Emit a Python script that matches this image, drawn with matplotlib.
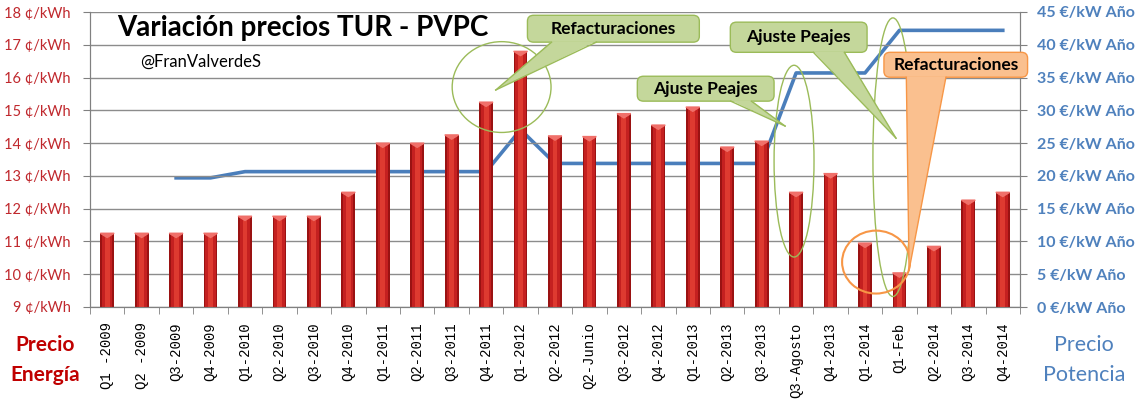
import numpy as np
import matplotlib
matplotlib.use("Agg")
import matplotlib.pyplot as plt
from matplotlib.patches import Ellipse, Polygon, FancyBboxPatch

# data
categories = ["Q1 -2009", "Q2 -2009", "Q3-2009", "Q4-2009", "Q1-2010", "Q2-2010",
              "Q3-2010", "Q4-2010", "Q1-2011", "Q2-2011", "Q3-2011", "Q4-2011",
              "Q1-2012", "Q2-2012", "Q2-Junio", "Q3-2012", "Q4-2012", "Q1-2013",
              "Q2-2013", "Q3-2013", "Q3-Agosto", "Q4-2013", "Q1-2014", "Q1-Feb",
              "Q2-2014", "Q3-2014", "Q4-2014"]
precio_energia = [11.25, 11.25, 11.25, 11.25, 11.77, 11.77, 11.77, 12.5, 14.0, 14.0,
                  14.25, 15.25, 16.8, 14.22, 14.2, 14.9, 14.55, 15.1, 13.88, 14.06,
                  12.5, 13.07, 10.95, 10.04, 10.85, 12.26, 12.5]
# potencia starts at Q3-2009
potencia_idx = list(range(2, 27))
precio_potencia = [19.7, 19.7, 20.65, 20.65, 20.65, 20.65, 20.65, 20.65, 20.65, 20.65,
                   27.05, 21.9, 21.9, 21.9, 21.9, 21.9, 21.9, 21.9, 35.7, 35.7,
                   35.7, 42.2, 42.2, 42.2, 42.2]
left_ticks = list(range(9, 19))
right_ticks = list(range(0, 50, 5))

RED = "#C0282D"
BLUE = "#4F81BD"
GREEN_FILL = "#C4D79B"
GREEN_EDGE = "#9BBB59"
ORANGE_FILL = "#FAC08F"
ORANGE_EDGE = "#F79646"

plt.rcParams["font.family"] = ["Lato", "DejaVu Sans"]

fig = plt.figure(figsize=(11.4, 3.99), dpi=100)
ax = fig.add_axes([90 / 1140, 92 / 399, 930 / 1140, 295 / 399])
ax2 = ax.twinx()

x = np.arange(len(categories))

# bars with a simple cylinder look
heights = [v - 9 for v in precio_energia]
ax.bar(x, heights, bottom=9, width=0.4, color="#9A1212", zorder=2)
ax.bar(x, heights, bottom=9, width=0.3, color="#C42020", zorder=2)
ax.bar(x, heights, bottom=9, width=0.14, color="#DE3A30", zorder=2)
for xi, v in zip(x, precio_energia):
    tri = Polygon([[xi - 0.2, v], [xi + 0.2, v], [xi, v - 0.13]], closed=True,
                  color="#F0706A", zorder=3)
    ax.add_patch(tri)

ax.set_xlim(-0.5, len(categories) - 0.5)
ax.set_ylim(9, 18)
ax.set_yticks(left_ticks)
ax.set_yticklabels([f"{v} ¢/kWh" for v in left_ticks], color=RED, fontsize=10.5)
ax.tick_params(axis="y", length=5, color="#808080", pad=9)
ax.grid(axis="y", color="#8C8C8C", lw=1, zorder=0)
ax.set_axisbelow(True)

ax.set_xticks(x)
ax.set_xticklabels(categories, rotation=90, fontsize=10, family=["Liberation Mono", "DejaVu Sans Mono"])
ax.tick_params(axis="x", length=0, pad=11)
ax.set_xticks(np.arange(-0.5, len(categories), 1), minor=True)
ax.tick_params(axis="x", which="minor", length=5, color="#808080")

ax2.plot(potencia_idx, precio_potencia, color="#4A7EBB", lw=2.6, zorder=4)
ax2.set_ylim(0, 45)
ax2.set_yticks(right_ticks)
ax2.set_yticklabels([f"{v} €/kW Año" for v in right_ticks], color=BLUE,
                    fontsize=11.5, fontweight="bold")
ax2.tick_params(axis="y", length=5, color="#808080", pad=7)

for a in (ax, ax2):
    a.spines["top"].set_visible(False)
    for s in ("left", "right", "bottom"):
        a.spines[s].set_color("#808080")

ax.set_zorder(ax2.get_zorder() + 1)
ax.patch.set_visible(False)


def callout(box, tip, base, text, fill, edge):
    x0, x1, y0, y1 = box
    b = FancyBboxPatch((x0, y0), x1 - x0, y1 - y0,
                       boxstyle="round,pad=0,rounding_size=0.18",
                       facecolor=fill, edgecolor=edge, lw=1, zorder=6, clip_on=False)
    ax.add_patch(b)
    w = Polygon([[base[0], y0 + 0.03], [base[1], y0 + 0.03], tip], closed=True,
                facecolor=fill, edgecolor="none", zorder=7, clip_on=False)
    ax.add_patch(w)
    ax.plot([base[0], tip[0]], [y0, tip[1]], color=edge, lw=1, zorder=7)
    ax.plot([base[1], tip[0]], [y0, tip[1]], color=edge, lw=1, zorder=7)
    ax.text((x0 + x1) / 2, (y0 + y1) / 2, text, ha="center", va="center",
            fontsize=12.5, fontweight="bold", color="black", zorder=8)


# ellipses
ax.add_patch(Ellipse((11.45, 15.71), 2.87, 2.77, fill=False, edgecolor=GREEN_EDGE, lw=1, zorder=5))
ax.add_patch(Ellipse((19.94, 13.45), 1.16, 5.85, fill=False, edgecolor=GREEN_EDGE, lw=1, zorder=5))
ax.add_patch(Ellipse((22.81, 13.57), 1.16, 8.5, fill=False, edgecolor=GREEN_EDGE, lw=1, zorder=5))
ax.add_patch(Ellipse((22.32, 10.37), 1.97, 1.92, fill=False, edgecolor=ORANGE_EDGE, lw=1.5, zorder=5))

callout((12.2, 17.19, 17.08, 17.9), (11.28, 15.62), (12.9, 14.2),
        "Refacturaciones", GREEN_FILL, GREEN_EDGE)
callout((15.39, 19.36, 15.28, 16.04), (19.68, 14.52), (18.1, 18.7),
        "Ajuste Peajes", GREEN_FILL, GREEN_EDGE)
callout((18.09, 22.06, 16.77, 17.69), (22.9, 14.15), (20.5, 21.4),
        "Ajuste Peajes", GREEN_FILL, GREEN_EDGE)
callout((22.55, 26.72, 16.01, 16.77), (23.28, 10.13), (23.2, 24.35),
        "Refacturaciones", ORANGE_FILL, ORANGE_EDGE)

fig.text(303 / 1140, 1 - 28 / 399, "Variación precios TUR - PVPC", ha="center", va="center",
         fontsize=20, fontweight="bold", color="black")
fig.text(140 / 1140, 1 - 62 / 399, "@FranValverdeS", ha="left", va="center",
         fontsize=12, color="black")

fig.text(45 / 1140, 1 - 345 / 399, "Precio", ha="center", va="center",
         fontsize=15, fontweight="bold", color="#C00000")
fig.text(45 / 1140, 1 - 375 / 399, "Energía", ha="center", va="center",
         fontsize=15, fontweight="bold", color="#C00000")
fig.text(1084 / 1140, 1 - 345 / 399, "Precio", ha="center", va="center",
         fontsize=15.5, color=BLUE)
fig.text(1084 / 1140, 1 - 375 / 399, "Potencia", ha="center", va="center",
         fontsize=15.5, color=BLUE)

fig.savefig("out.png", dpi=100, facecolor="white")
